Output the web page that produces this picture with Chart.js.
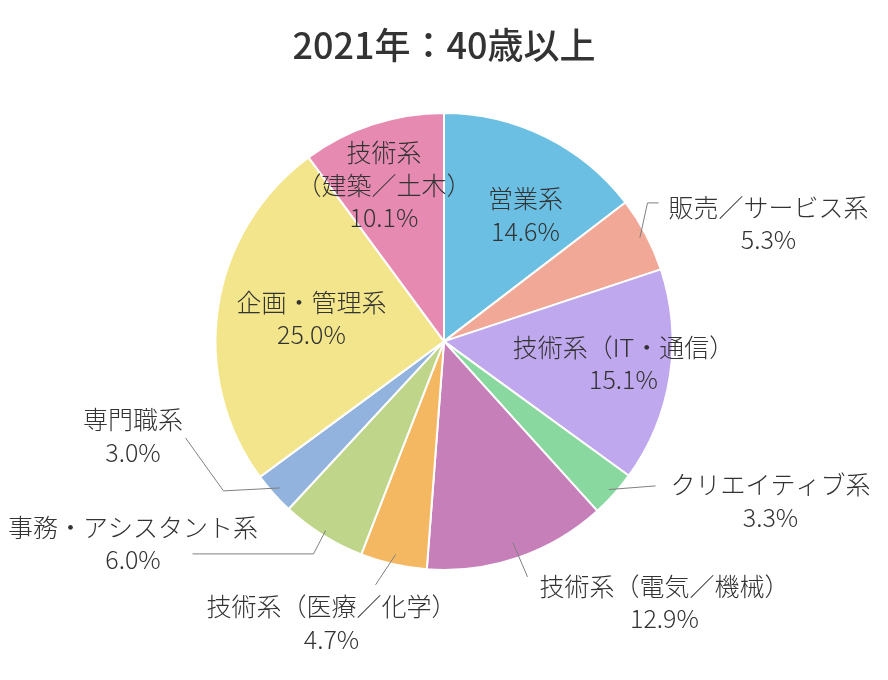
<!DOCTYPE html>
<html><head><meta charset="utf-8">
<script src="https://cdn.jsdelivr.net/npm/chart.js@4.4.1/dist/chart.umd.min.js"></script>
<style>html,body{margin:0;padding:0;background:#fff}#wrap{width:888px;height:680px}</style>
</head><body><div id="wrap"><canvas id="c" width="888" height="680"></canvas></div>
<script>
const TITLE = '2021年：40歳以上';
const categories = ['営業系','販売／サービス系','技術系（IT・通信）','クリエイティブ系','技術系（電気／機械）','技術系（医療／化学）','事務・アシスタント系','専門職系','企画・管理系','技術系（建築／土木）'];
const shares = [14.6, 5.3, 15.1, 3.3, 12.9, 4.7, 6.0, 3.0, 25.0, 10.1];
const sliceColors = ['#6bbfe3','#f2a897','#bfa8ee','#88d8a0','#c77fba','#f5b862','#bed58a','#93b3df','#f2e58b','#e78ab2'];

const FONT = "'Noto Sans CJK JP', 'Noto Sans', sans-serif";
const TEXT_COLOR = '#333333';

// label placement (offsets from pie centre, px); leader = line from slice mid-angle
const labelLayout = [
  {dx: 81.5,  dy: -126.5},
  {dx: 324.5, dy: -118,  r: 0.97,  path: [[203.5,-138.5],[214.5,-138.5]]},
  {dx: 179.5, dy: 22},
  {dx: 326.5, dy: 159.5, r: 0.97,  path: [[211.5,144.5]]},
  {dx: 220.5, dy: 261,   r: 0.93,  path: [[83.5,235.5]]},
  {dx: -112.5,dy: 281.5, r: 0.956, path: [[-68.5,243.5]]},
  {dx: -311,  dy: 202,   r: 0.976, path: [[-130.5,212.5],[-251.5,212.5]]},
  {dx: -311,  dy: 94.5,  r: 0.963, path: [[-220.5,149.5],[-258.5,96.5]]},
  {dx: -132.5,dy: -23},
  {dx: -60,   dy: -156,  split: ['技術系','（建築／土木）']}
];

const labelPlugin = {
  id: 'sliceLabels',
  afterDatasetsDraw(chart) {
    const ctx = chart.ctx;
    const meta = chart.getDatasetMeta(0);
    ctx.save();
    meta.data.forEach((arc, i) => {
      const L = labelLayout[i];
      const cx = arc.x, cy = arc.y;
      if (L.path) {
        const mid = (arc.startAngle + arc.endAngle) / 2;
        const r = arc.outerRadius * L.r;
        ctx.beginPath();
        ctx.moveTo(cx + Math.cos(mid) * r, cy + Math.sin(mid) * r);
        L.path.forEach(p => ctx.lineTo(cx + p[0], cy + p[1]));
        ctx.strokeStyle = '#808080';
        ctx.lineWidth = 1;
        ctx.stroke();
      }
      const lines = (L.split ? L.split : [categories[i]]).concat([shares[i].toFixed(1) + '%']);
      const gap = 32.5;
      const x = cx + L.dx;
      const y0 = cy + L.dy - gap * (lines.length - 1) / 2;
      ctx.fillStyle = TEXT_COLOR;
      ctx.font = '300 25px ' + FONT;
      ctx.textAlign = 'center';
      ctx.textBaseline = 'middle';
      lines.forEach((t, k) => ctx.fillText(t, x, y0 + k * gap));
    });
    ctx.restore();
  }
};

new Chart(document.getElementById('c'), {
  type: 'pie',
  data: {
    labels: categories,
    datasets: [{
      data: shares,
      backgroundColor: sliceColors,
      borderColor: '#ffffff',
      borderWidth: 2,
      radius: 228.5
    }]
  },
  options: {
    responsive: false,
    animation: false,
    layout: {padding: {top: 0, bottom: 64.4, left: 0, right: 0}},
    plugins: {
      legend: {display: false},
      tooltip: {enabled: false},
      title: {
        display: true, text: TITLE, color: TEXT_COLOR,
        font: {family: FONT, size: 36, weight: 500},
        padding: {top: 24, bottom: 0}
      }
    }
  },
  plugins: [labelPlugin]
});
</script>
</body></html>
